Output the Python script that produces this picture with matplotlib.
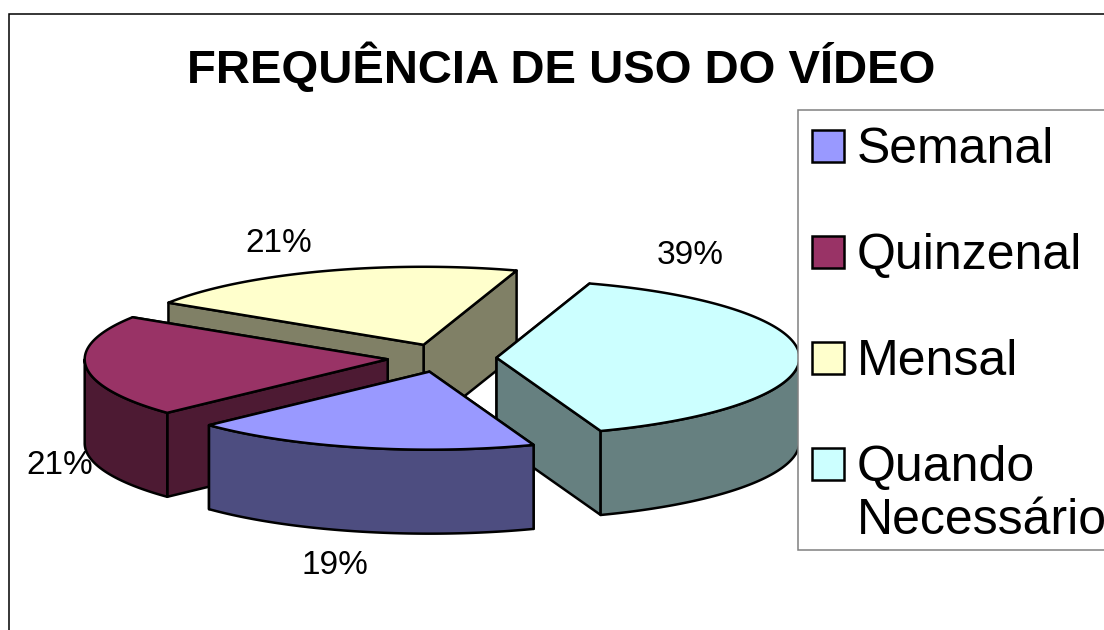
import numpy as np
from matplotlib import pyplot as plt
from matplotlib.patches import Polygon, Rectangle

title = "FREQUÊNCIA DE USO DO VÍDEO"
categories = ["Semanal", "Quinzenal", "Mensal", "Quando\nNecessário"]
values = [18.55, 21.1, 20.9, 39.45]
top_colors = ["#9999FF", "#993366", "#FFFFCC", "#CCFFFF"]
side_colors = ["#4D4D80", "#4D1A33", "#808066", "#668080"]

# layout in pixels of the 1104x630 picture
cx, cy = 442, 358
rx, ry = 303, 78
depth = 84
explode = 0.18
start_angle = 159.9
label_pos = [(335, 566), (60, 465), (279, 243), (690, 255)]
legend_y = [146, 252, 358, 464]

plt.rcParams['font.family'] = ['Liberation Sans', 'DejaVu Sans']
fig = plt.figure(figsize=(11.04, 6.3), dpi=100)
ax = fig.add_axes([0, 0, 1, 1])
ax.set_xlim(0, 1104)
ax.set_ylim(630, 0)
ax.axis('off')


def ring(ox, oy, a, b):
    t = np.radians(np.linspace(a, b, 120))
    return np.column_stack([ox + rx * np.sin(t), oy - ry * np.cos(t)])


ax.add_patch(Rectangle((9, 14), 1200, 800, fc='white', ec='black', lw=1.1))

# work out each slice from the values
total = sum(values)
slices = []
a = start_angle
for i, v in enumerate(values):
    b = a + 360 * v / total
    mid = np.radians((a + b) / 2)
    ox = cx + explode * rx * np.sin(mid)
    oy = cy - explode * ry * np.cos(mid)
    slices.append((oy, ox, a, b, i))
    a = b

# back to front
for oy, ox, a, b, i in sorted(slices):
    arc = ring(ox, oy, a, b)
    apex = np.array([ox, oy])
    down = np.array([0, depth])
    ends = sorted([arc[0], arc[-1]], key=lambda p: p[1])
    for p in ends:
        wall = [apex, p, p + down, apex + down]
        ax.add_patch(Polygon(wall, fc=side_colors[i], ec='black', lw=1.8, joinstyle='round'))
    # front half of the rim is 90-270, slices past 360 wrap round
    for turn in (0, 360):
        lo, hi = max(a, 90 + turn), min(b, 270 + turn)
        if lo < hi:
            front = ring(ox, oy, lo, hi)
            outer = np.vstack([front, front[::-1] + down])
            ax.add_patch(Polygon(outer, fc=side_colors[i], ec='black', lw=1.8, joinstyle='round'))
    top = np.vstack([apex, arc])
    ax.add_patch(Polygon(top, fc=top_colors[i], ec='black', lw=1.8, joinstyle='round'))

for v, (x, y) in zip(values, label_pos):
    ax.text(x, y, "%d%%" % round(v), fontsize=24, ha='center', va='center', color='black')

ax.text(561, 68, title, fontsize=34, fontweight='bold', ha='center', va='center')

# legend
ax.add_patch(Rectangle((798, 110), 400, 440, fc='white', ec='#808080', lw=1.1))
for name, color, y in zip(categories, top_colors, legend_y):
    ax.add_patch(Rectangle((812, y - 16), 32, 32, fc=color, ec='black', lw=1.8))
    ax.text(857, y - 19, name, fontsize=36, ha='left', va='top', linespacing=1.2)

fig.savefig('out.png', dpi=100)
